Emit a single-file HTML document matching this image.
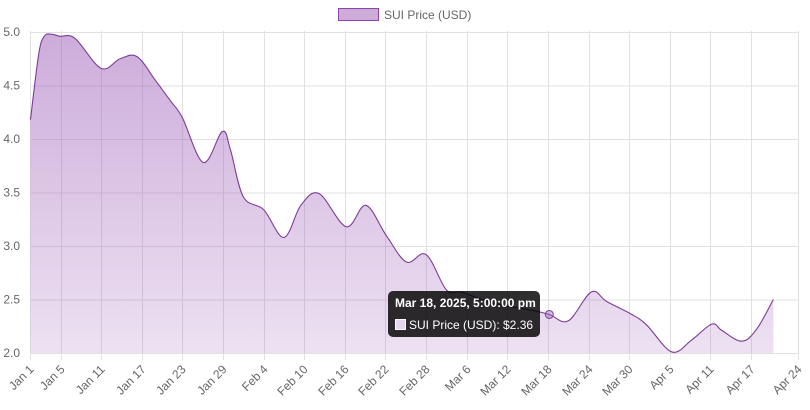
<!DOCTYPE html>
<html><head><meta charset="utf-8"><style>
body{margin:0;background:#fff;width:810px;height:405px;overflow:hidden;font-family:"Liberation Sans",Arial,sans-serif}
</style></head><body>
<svg id="chart" width="810" height="405" xmlns="http://www.w3.org/2000/svg">
<defs><linearGradient id="fillg" x1="0" y1="0" x2="0" y2="1">
<stop offset="0" stop-color="rgba(155,89,182,0.5)"/><stop offset="1" stop-color="rgba(155,89,182,0.18)"/></linearGradient></defs>
<g id="grid"></g><g id="series"></g><g id="axes"></g>
<g>
<rect x="338.5" y="8.5" width="40" height="12" fill="rgba(155,89,182,0.5)" stroke="#8e44ad" stroke-width="1"/>
<text x="384" y="19" font-size="12" fill="#666">SUI Price (USD)</text></g>
<g id="tooltip">
<rect x="388" y="291" width="152" height="46" rx="5" fill="rgba(0,0,0,0.82)"/>
<text x="395" y="307" font-size="12" font-weight="bold" fill="#fff">Mar 18, 2025, 5:00:00 pm</text>
<rect x="395.5" y="319.5" width="10" height="10" fill="#e6d5ee" stroke="#fff"/>
<text x="409" y="329" font-size="12" fill="#fff">SUI Price (USD): $2.36</text>
</g>
</svg>
<script>
const dayOffsets=[-0.44,0.8,1.6,2.6,3.93,6.15,10,12.8,15.3,18,20.2,22,25.1,27.9,29.1,31,34,37,39.5,42.2,46.2,49.1,52.1,55.1,58,61,63.2,66.2,69.1,73.6,76.2,79,82.4,84.7,88.4,90.6,94.3,97.2,100.2,101.7,104.6,106.8,109.3];
const prices=[4.18,4.8,4.96,4.98,4.96,4.94,4.66,4.75,4.77,4.55,4.36,4.2,3.78,4.07,3.9,3.46,3.34,3.08,3.38,3.49,3.18,3.38,3.1,2.85,2.92,2.59,2.57,2.5,2.45,2.4,2.36,2.3,2.57,2.48,2.36,2.26,2.01,2.12,2.27,2.21,2.11,2.22,2.5];
const tickLabels=["Jan 1","Jan 5","Jan 11","Jan 17","Jan 23","Jan 29","Feb 4","Feb 10","Feb 16","Feb 22","Feb 28","Mar 6","Mar 12","Mar 18","Mar 24","Mar 30","Apr 5","Apr 11","Apr 17","Apr 24"];
const tickDays=[-0.44,4,10,16,22,28,34,40,46,52,58,64,70,76,82,88,94,100,106,113];
const yTicks=[2.0,2.5,3.0,3.5,4.0,4.5,5.0];
const NS="http://www.w3.org/2000/svg";
const X=d=>60.5+(d-4)*6.77;
const Y=v=>353-(v-2)*107;
function mk(t,a,p){const e=document.createElementNS(NS,t);for(const k in a)e.setAttribute(k,a[k]);p.appendChild(e);return e;}
const grid=document.getElementById('grid'),axes=document.getElementById('axes'),ser=document.getElementById('series');
const L=X(tickDays[0]),R=X(tickDays[tickDays.length-1]);
yTicks.forEach(v=>{
 const l=mk('line',{x1:L,x2:R,y1:Y(v)+0.5,y2:Y(v)+0.5,stroke:'#e1e1e1'},grid);
 
 
 const t=mk('text',{x:20,y:Y(v)+4,'font-size':12,fill:'#666','text-anchor':'end'},axes);
 t.textContent=v.toFixed(1);
 
 
});
tickDays.forEach((d,i)=>{
 const x=Math.round(X(d))+0.5;
 const l=mk('line',{x1:x,x2:x,y1:31,y2:360,stroke:'#e1e1e1'},grid);
 
 
 const t=mk('text',{x:x+4,y:370,'font-size':12,fill:'#666','text-anchor':'end',transform:`rotate(-45 ${x+4} 370)`},axes);
 t.textContent=tickLabels[i];
 
 
});
const pts=dayOffsets.map((d,i)=>[X(d),Y(prices[i])]);
let p=`M${pts[0][0]},${pts[0][1]}`;
for(let i=0;i<pts.length-1;i++){
 const p0=pts[Math.max(0,i-1)],p1=pts[i],p2=pts[i+1],p3=pts[Math.min(pts.length-1,i+2)];
 const k=0.17;
 p+=` C${p1[0]+(p2[0]-p0[0])*k},${p1[1]+(p2[1]-p0[1])*k} ${p2[0]-(p3[0]-p1[0])*k},${p2[1]-(p3[1]-p1[1])*k} ${p2[0]},${p2[1]}`;
}
const last=pts[pts.length-1];
const area=mk('path',{d:p+` L${last[0]},353 L${pts[0][0]},353 Z`,fill:'url(#fillg)'},ser);


const line=mk('path',{d:p,fill:'none',stroke:'#7d3c98','stroke-width':1.1},ser);


const hi=dayOffsets.indexOf(76.2);
const pt=mk('circle',{cx:X(dayOffsets[hi]),cy:Y(prices[hi]),r:4,fill:'rgba(155,89,182,0.4)',stroke:'#7d3c98'},ser);


</script>
</body></html>
